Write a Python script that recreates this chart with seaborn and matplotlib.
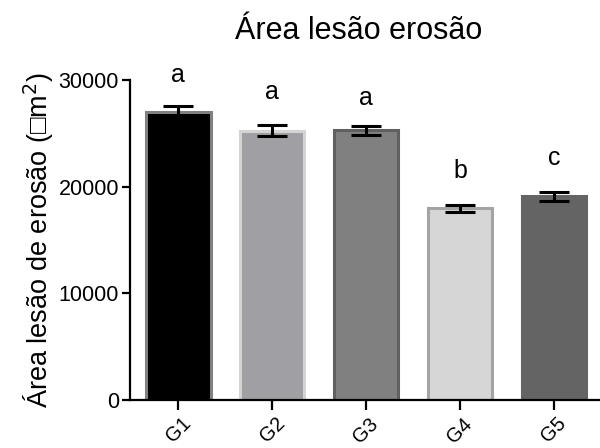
import matplotlib
matplotlib.use("Agg")
import matplotlib.pyplot as plt
import seaborn as sns
import pandas as pd

# Daten
groups = ["G1", "G2", "G3", "G4", "G5"]
means = [27050, 25250, 25300, 18000, 19100]
sem = [520, 530, 450, 340, 430]
letters = ["a", "a", "a", "b", "c"]
letter_y = [30500, 28900, 28300, 21500, 22700]

fill_colors = ["#000000", "#a0a0a4", "#808080", "#d6d6d6", "#646464"]
edge_colors = ["#808080", "#d4d4d4", "#606060", "#a4a4a4", "#646464"]

sns.set_style("ticks", {"axes.edgecolor": "black", "text.color": "black",
                        "xtick.color": "black", "ytick.color": "black",
                        "axes.labelcolor": "black"})
plt.rcParams["font.family"] = ["Liberation Sans", "DejaVu Sans"]

df = pd.DataFrame({"Gruppe": groups, "Area": means})

fig = plt.figure(figsize=(6, 4.48), dpi=100)
ax = fig.add_axes([0.217, 0.107, 0.783, 0.714])

sns.barplot(data=df, x="Gruppe", y="Area", hue="Gruppe", palette=fill_colors,
            width=0.69, legend=False, ax=ax)
for patch, ec in zip(ax.patches, edge_colors):
    patch.set_edgecolor(ec)
    patch.set_linewidth(2.2)

ax.errorbar(range(len(groups)), means, yerr=sem, fmt="none", ecolor="black",
            elinewidth=2.2, capsize=11, capthick=2.2, zorder=5)

for i, (lt, ly) in enumerate(zip(letters, letter_y)):
    ax.text(i, ly, lt, ha="center", va="center", fontsize=18, clip_on=False)

ax.set_ylim(0, 30000)
ax.set_xlim(-0.51, 4.49)
ax.set_yticks([0, 10000, 20000, 30000])
ax.tick_params(axis="y", labelsize=15.5, width=1.6, length=6, pad=2)
ax.tick_params(axis="x", labelsize=14.5, width=1.6, length=7, pad=3)
plt.setp(ax.get_xticklabels(), rotation=45, ha="center", rotation_mode="default")
for s in ["left", "bottom"]:
    ax.spines[s].set_linewidth(1.6)
sns.despine(ax=ax)

ax.set_xlabel("")
ax.set_ylabel("Área lesão de erosão (\u25a1m$^2$)", fontsize=19.5, labelpad=2)
fig.text(0.598, 0.93, "Área lesão erosão", ha="center", va="center", fontsize=22)

fig.savefig("out.png", dpi=100)
